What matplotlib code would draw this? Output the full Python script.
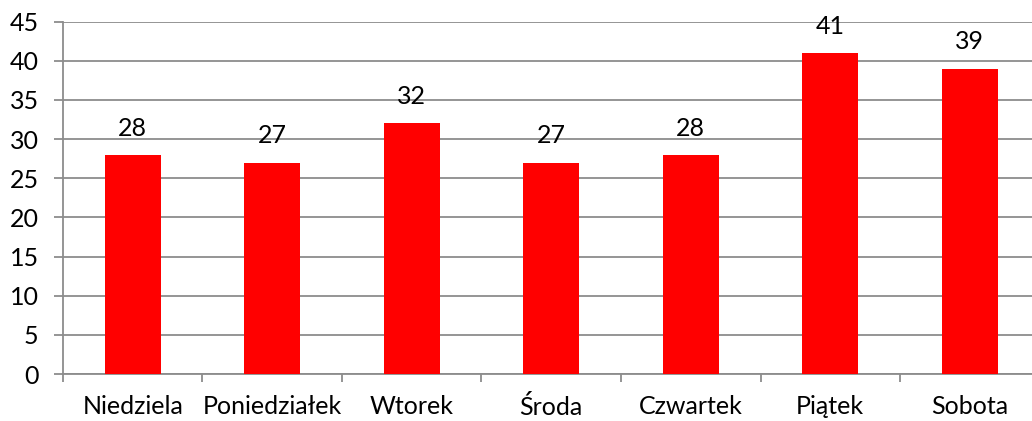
import matplotlib.pyplot as plt

plt.rcParams['font.family'] = ['Lato', 'DejaVu Sans']
plt.rcParams['font.size'] = 18

dni = ['Niedziela', 'Poniedziałek', 'Wtorek', 'Środa', 'Czwartek', 'Piątek', 'Sobota']
wartosci = [28, 27, 32, 27, 28, 41, 39]
yticks = list(range(0, 50, 5))

szary = '#8c8c8c'

fig = plt.figure(figsize=(10.32, 4.21), dpi=100)
ax = fig.add_axes([0.061, 0.1116, 0.9463, 0.8369])

x = range(len(dni))
bars = ax.bar(x, wartosci, width=0.4, color='#ff0000', zorder=3)
for b, v in zip(bars, wartosci):
    ax.annotate(str(v), (b.get_x() + b.get_width() / 2, v), xytext=(0, 11),
                textcoords='offset points', ha='center', va='bottom', fontsize=18)

ax.set_xlim(-0.5, len(dni) - 0.5)
ax.set_ylim(0, 45)
ax.set_yticks(yticks)
ax.yaxis.grid(True, color=szary, linewidth=1.3, zorder=0)

# ticks on x between categories, labels centred
ax.set_xticks([i - 0.5 for i in range(len(dni) + 1)])
ax.set_xticklabels([])
ax.set_xticks(list(x), minor=True)
ax.set_xticklabels(dni, minor=True)
ax.tick_params(axis='x', which='minor', length=0, pad=15)
ax.tick_params(axis='x', which='major', length=6, color=szary, width=1.3)
ax.tick_params(axis='y', length=6.5, color=szary, width=1.3, pad=11)

for s in ['top', 'right']:
    ax.spines[s].set_visible(False)
for s in ['left', 'bottom']:
    ax.spines[s].set_color(szary)
    ax.spines[s].set_linewidth(1.3)

fig.savefig('out.png', dpi=100)
